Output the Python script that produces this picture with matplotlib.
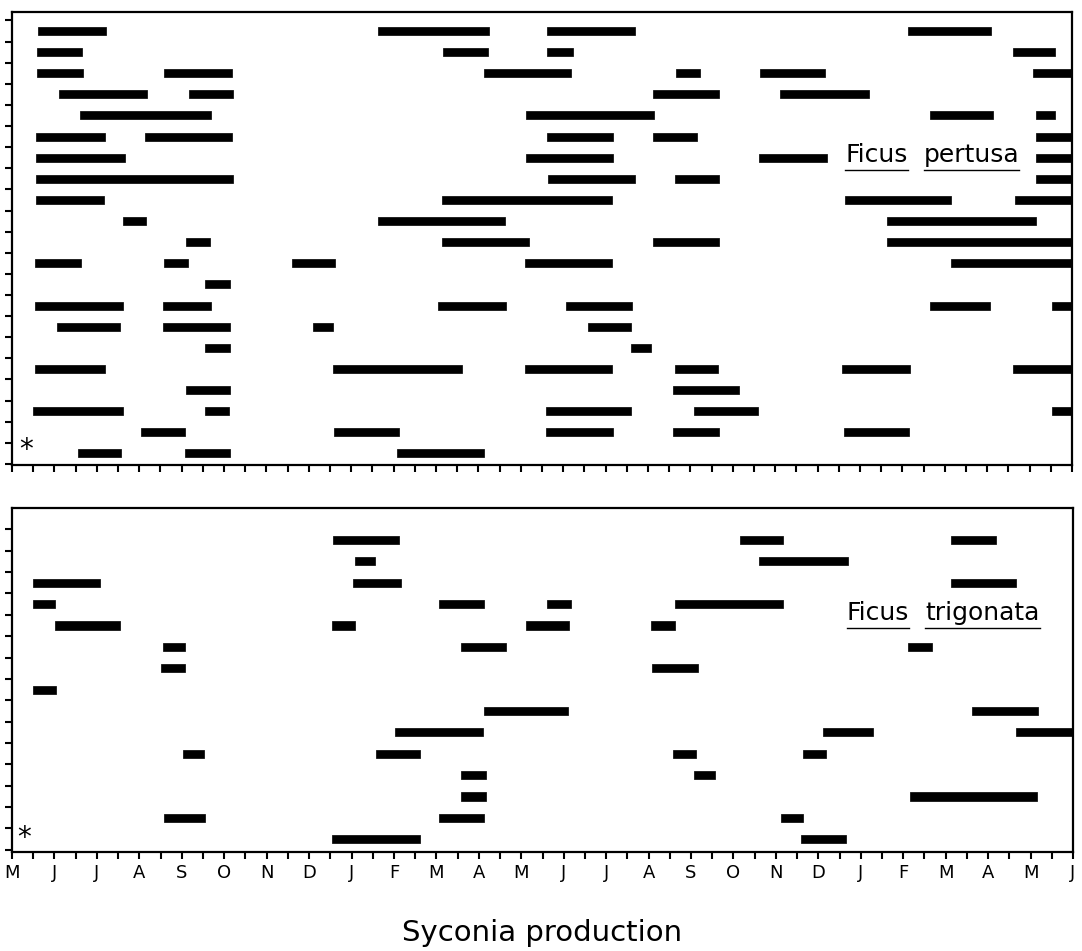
import matplotlib
matplotlib.use("Agg")
import matplotlib.pyplot as plt

# month labels, May of year 1 to June of year 3
month_labels = ["M", "J", "J", "A", "S", "O", "N", "D", "J", "F", "M", "A", "M",
                "J", "J", "A", "S", "O", "N", "D", "J", "F", "M", "A", "M", "J"]

# production periods per tree (start, end) in months from May
pertusa = [
    [(0.61, 2.22), (8.63, 11.25), (12.62, 14.70), (21.13, 23.10)],
    [(0.59, 1.65), (10.17, 11.23), (12.62, 13.22), (23.62, 24.61)],
    [(0.59, 1.68), (3.59, 5.20), (11.13, 13.19), (15.65, 16.22), (17.64, 19.17), (24.09, 25.0)],
    [(1.11, 3.19), (4.18, 5.22), (15.11, 16.67), (18.11, 20.21)],
    [(1.61, 4.70), (12.13, 15.15), (21.65, 23.14), (24.14, 24.61)],
    [(0.57, 2.20), (3.14, 5.20), (12.62, 14.18), (15.11, 16.15), (24.16, 25.0)],
    [(0.57, 2.67), (12.13, 14.18), (17.61, 19.22), (24.16, 25.0)],
    [(0.57, 5.22), (12.65, 14.70), (15.63, 16.67), (24.16, 25.0)],
    [(0.57, 2.17), (10.14, 14.16), (19.65, 22.15), (23.66, 25.0)],
    [(2.62, 3.17), (8.63, 11.63), (20.64, 24.14)],
    [(4.11, 4.66), (10.14, 12.20), (15.11, 16.67), (20.64, 25.0)],
    [(0.54, 1.63), (3.59, 4.14), (6.60, 7.61), (12.10, 14.16), (22.15, 25.0)],
    [(4.56, 5.13)],
    [(0.54, 2.62), (3.55, 4.70), (10.05, 11.65), (13.07, 14.63), (21.65, 23.07), (24.54, 25.0)],
    [(1.06, 2.55), (3.57, 5.13), (7.09, 7.57), (13.59, 14.61)],
    [(4.56, 5.13), (14.59, 15.08)],
    [(0.54, 2.20), (7.57, 10.61), (12.10, 14.14), (15.63, 16.64), (19.57, 21.18), (23.62, 25.0)],
    [(4.11, 5.13), (15.60, 17.14)],
    [(0.50, 2.62), (4.56, 5.11), (12.60, 14.61), (16.08, 17.59), (24.54, 25.0)],
    [(3.05, 4.09), (7.59, 9.13), (12.60, 14.18), (15.58, 16.67), (19.62, 21.16)],
    [(1.56, 2.58), (4.07, 5.13), (9.08, 11.13)],
]

trigonata = [
    [(7.57, 9.13), (17.16, 18.16), (22.13, 23.19)],
    [(8.08, 8.56), (17.61, 19.69)],
    [(0.50, 2.08), (8.04, 9.17), (22.13, 23.66)],
    [(0.50, 1.02), (10.07, 11.11), (12.60, 13.17), (15.63, 18.16)],
    [(1.02, 2.55), (7.54, 8.08), (12.10, 13.12), (15.06, 15.63)],
    [(3.55, 4.07), (10.59, 11.63), (21.11, 21.68)],
    [(3.50, 4.07), (15.08, 16.17)],
    [(0.50, 1.04)],
    [(11.11, 13.10), (22.62, 24.18)],
    [(9.03, 11.09), (19.10, 20.28), (23.66, 25.0)],
    [(4.02, 4.52), (8.58, 9.62), (15.58, 16.12), (18.63, 19.17)],
    [(10.57, 11.16), (16.08, 16.57)],
    [(10.57, 11.16), (21.16, 24.16)],
    [(3.57, 4.54), (10.07, 11.11), (18.11, 18.63)],
    [(7.54, 9.62), (18.60, 19.65)],
]

W, H = 1082, 951
fig = plt.figure(figsize=(W / 100, H / 100), dpi=100)
ax1 = fig.add_axes([12 / W, 1 - 465 / H, 1060 / W, 453 / H])
ax2 = fig.add_axes([12 / W, 1 - 852 / H, 1061 / W, 344 / H])


def draw_panel(ax, rows, ylim):
    for i, row in enumerate(rows):
        ax.broken_barh([(s, e - s) for s, e in row], (i - 0.19, 0.38),
                       facecolors="black", edgecolor="black", linewidth=0.5)
    ax.set_xlim(0, 25)
    ax.set_ylim(*ylim)
    ax.set_xticks(range(26))
    ax.set_xticks([m + 0.5 for m in range(25)], minor=True)
    ax.set_yticks([i - 0.5 for i in range(len(rows) + 1)])
    ax.set_yticklabels([])
    ax.tick_params(which="both", direction="out", length=5, width=1.5)
    for sp in ax.spines.values():
        sp.set_linewidth(1.6)


def underlined_label(ax, x, y, words, size):
    # species name with each word underlined separately
    fig.canvas.draw()
    r = fig.canvas.get_renderer()
    cur = x
    for w in words:
        t = ax.text(cur, y, w, fontsize=size, va="center", ha="left",
                    family="DejaVu Sans")
        bb = t.get_window_extent(renderer=r)
        inv = ax.transData.inverted()
        (x0, y0), (x1, y1) = inv.transform([(bb.x0, bb.y0), (bb.x1, bb.y1)])
        ax.plot([x0, x1], [y0 + 0.12 * (y0 - y1), y0 + 0.12 * (y0 - y1)],
                color="black", lw=1.0, clip_on=False)
        cur = inv.transform([(bb.x1 + 16, 0)])[0][0]


draw_panel(ax1, pertusa, (20.55, -0.9))
draw_panel(ax2, trigonata, (14.6, -1.5))

ax1.set_xticklabels([])
ax2.set_xticklabels(month_labels, fontsize=13)
ax2.set_xlabel("Syconia production", fontsize=21, labelpad=27)

ax1.text(0.33, 19.86, "*", fontsize=20, ha="center", va="center")
ax2.text(0.28, 13.94, "*", fontsize=20, ha="center", va="center")

underlined_label(ax1, 19.65, 5.88, ["Ficus", "pertusa"], 18)
underlined_label(ax2, 19.67, 3.43, ["Ficus", "trigonata"], 18)

fig.savefig("out.png", dpi=100)
